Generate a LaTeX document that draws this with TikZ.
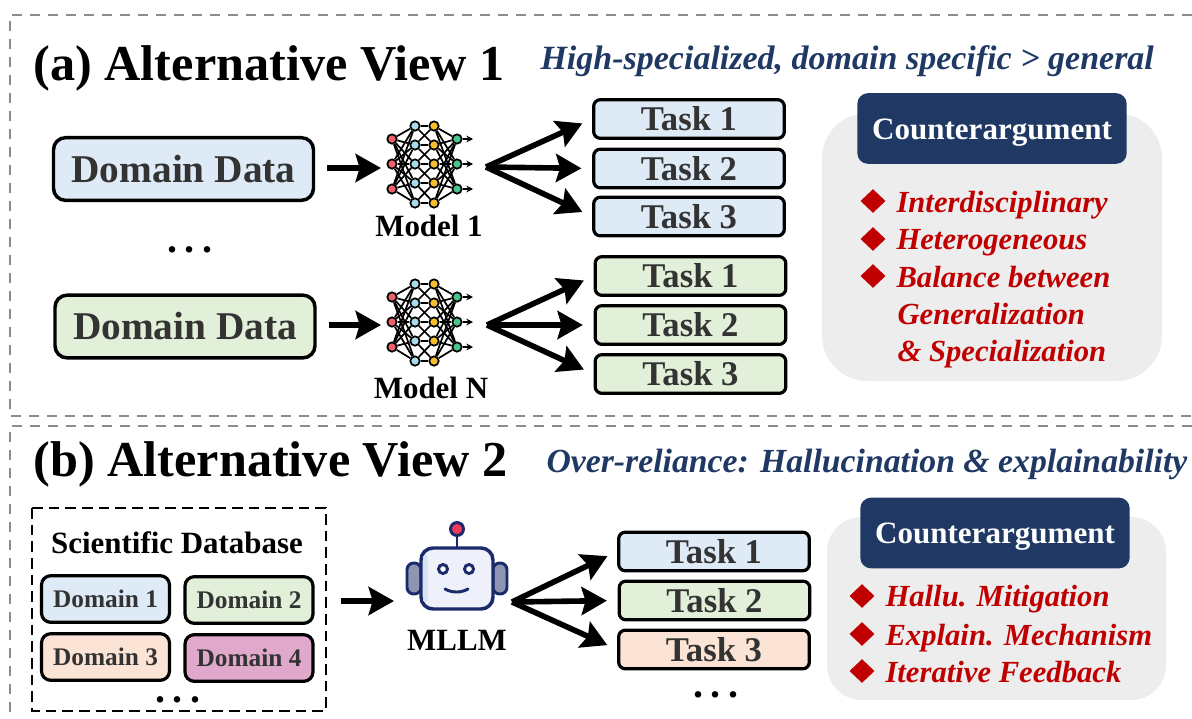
\documentclass[tikz,border=0pt]{standalone}
\usepackage{fontspec}
\setmainfont{Liberation Serif}
\usetikzlibrary{arrows.meta,shapes.geometric}

\definecolor{navyhead}{HTML}{1F3864}
\definecolor{boxblue}{HTML}{DEEAF6}
\definecolor{boxgreen}{HTML}{E2EFD9}
\definecolor{boxorange}{HTML}{FBE4D5}
\definecolor{boxpink}{HTML}{E0A9CC}
\definecolor{panelgray}{HTML}{EDEDED}
\definecolor{listred}{HTML}{C00000}
\definecolor{textgray}{HTML}{333333}
\definecolor{framegray}{HTML}{8C8C8C}
\definecolor{robotnavy}{HTML}{1B2A6B}

\tikzset{every picture/.style={line width=0.75pt}}
\tikzset{
  databox/.style={draw=black,line width=2.6pt,rounded corners=9pt,minimum width=195pt,minimum height=47pt,inner sep=0pt,text=textgray,font=\fontsize{29.5}{31}\selectfont\bfseries},
  taskbox/.style={draw=black,line width=2.4pt,rounded corners=5pt,minimum width=143pt,minimum height=29pt,inner sep=0pt,text=textgray,font=\fontsize{26}{28}\selectfont\bfseries},
  domainbox/.style={draw=black,line width=2.4pt,rounded corners=7pt,minimum width=96pt,minimum height=35pt,inner sep=0pt,text=textgray,font=\fontsize{19}{21}\selectfont\bfseries},
  headbox/.style={fill=navyhead,rounded corners=8pt,minimum width=202pt,minimum height=53pt,inner sep=0pt,text=white,text height=22pt,text depth=6pt,font=\fontsize{23.3}{25}\selectfont\bfseries},
  titletext/.style={anchor=west,inner sep=0pt,font=\fontsize{37.7}{40}\selectfont\bfseries},
  subtext/.style={anchor=west,inner sep=0pt,text=navyhead,font=\fontsize{25.5}{27}\selectfont\bfseries\itshape},
  labeltext/.style={inner sep=0pt,font=\fontsize{23.2}{25}\selectfont\bfseries},
  listtext/.style={anchor=west,inner sep=0pt,text=listred,text height=16pt,text depth=5pt,font=\fontsize{23}{25}\selectfont\bfseries\itshape},
  listmark/.style={diamond,fill=listred,inner sep=0pt,minimum width=19pt,minimum height=18pt},
  dotstext/.style={inner sep=0pt,font=\fontsize{30}{32}\selectfont\bfseries},
  bigarrow/.style={line width=4.2pt,-{Stealth[length=19pt,width=21pt,inset=3pt]}},
  netdot/.style={circle,draw=black,line width=1.3pt,minimum size=7pt,inner sep=0pt},
  netline/.style={line width=1.3pt},
  framedash/.style={draw=framegray,line width=1.3pt,dash pattern={on 7.5pt off 6pt}},
}

\newcommand{\rowdots}{.\kern5.6pt.\kern5.6pt.}

% neural net icon: centre x, centre y, name prefix
\newcommand{\netmodel}[3]{%
\begin{scope}[shift={(#1,#2)},name prefix=#3-]
  \foreach \i/\yy in {1/-25,2/0,3/25} {
    \draw (-37,\yy) node (r\i) [netdot,fill={rgb,255:red,240;green,96;blue,106}] {};
    \draw (28,\yy) node (g\i) [netdot,fill={rgb,255:red,76;green,195;blue,138}] {};
    \coordinate (o\i) at (44,\yy);
    \draw [netline,-{Stealth[length=5pt,width=5pt]}] (g\i) -- (o\i);
  }
  \foreach \i/\yy in {1/-38,2/-19,3/0,4/19,5/39} {
    \draw (-14,\yy) node (b\i) [netdot,fill={rgb,255:red,168;green,220;blue,235}] {};
    \draw (5,\yy) node (y\i) [netdot,fill={rgb,255:red,245;green,192;blue,46}] {};
  }
  \foreach \i in {1,2,3} {
    \foreach \j in {1,2,3,4,5} {
      \draw [netline] (r\i) -- (b\j);
      \draw [netline] (y\j) -- (g\i);
    }
  }
  \foreach \i/\j in {1/1,1/2,2/1,2/2,2/3,3/2,3/3,3/4,4/3,4/4,4/5,5/4,5/5} {
    \draw [netline] (b\i) -- (y\j);
  }
\end{scope}}

\begin{document}
\begin{tikzpicture}[x=0.75pt,y=0.75pt,yscale=-1,xscale=1]
  \useasboundingbox (0,0) rectangle (1192,718);

  %Dashed frames
  \draw [framedash] (1192,15) -- (10,15) -- (10,416) -- (1192,416);
  \draw [framedash] (1192,426) -- (10,426) -- (10,718);

  %Gray panels
  \fill [panelgray,rounded corners=34pt] (822,113) rectangle (1162,381);
  \fill [panelgray,rounded corners=26pt] (827,517) rectangle (1166,700);
  \draw [black,line width=1.5pt,dash pattern={on 8pt off 4.5pt}] (32,508) rectangle (326,711);

  % Text Node
  \draw (33,68) node (titlea) [titletext] {(a) Alternative View 1};
  % Text Node
  \draw (540,61.5) node (suba) [subtext] {High-specialized, domain specific > general};
  % Text Node
  \draw (33,464) node (titleb) [titletext] {(b) Alternative View 2};
  % Text Node
  \draw (546,464.5) node (subb) [subtext,font=\fontsize{25.3}{27}\selectfont\bfseries\itshape] {Over-reliance: Hallucination \& explainability};

  %Domain data
  \draw (183.5,169) node (dataa) [databox,fill=boxblue] {Domain Data};
  \draw (185,326.5) node (datan) [databox,fill=boxgreen] {Domain Data};
  \draw (190,250) node (dotsa) [dotstext] {\rowdots};

  %Models
  \netmodel{429}{164}{neta}
  \netmodel{429}{322}{netn}
  \draw (429,226) node (labela) [labeltext] {Model 1};
  \draw (431,388) node (labeln) [labeltext] {Model N};

  %Tasks of view 1
  \draw (689,119) node (taskaa) [taskbox,fill=boxblue] {Task 1};
  \draw (689,168.5) node (taskab) [taskbox,fill=boxblue] {Task 2};
  \draw (689,216.5) node (taskac) [taskbox,fill=boxblue] {Task 3};
  \draw (690.5,276) node (taskna) [taskbox,fill=boxgreen] {Task 1};
  \draw (690.5,325) node (tasknb) [taskbox,fill=boxgreen] {Task 2};
  \draw (690.5,374) node (tasknc) [taskbox,fill=boxgreen] {Task 3};

  %Arrows of view 1
  \coordinate (fana) at (486,167);
  \coordinate (fann) at (487,325);
  \coordinate (neta-in) at (381,168);
  \coordinate (netn-in) at (381,325);
  \draw [bigarrow,shorten <=9pt] (dataa.east |- neta-in) -- (neta-in);
  \draw [bigarrow,shorten <=9pt] (datan.east |- netn-in) -- (netn-in);
  \foreach \t in {taskaa,taskab,taskac} {
    \draw [bigarrow,shorten >=8pt] (fana) -- (\t.west);
  }
  \foreach \t in {taskna,tasknb,tasknc} {
    \draw [bigarrow,shorten >=8pt] (fann) -- (\t.west);
  }

  %Counterargument of view 1
  \draw (992,128.5) node (heada) [headbox] {Counterargument};
  \draw (873,201) node (marka) [listmark] {};
  \draw (873,239) node (markb) [listmark] {};
  \draw (873,276) node (markc) [listmark] {};
  \draw (896,204.7) node (lista) [listtext] {Interdisciplinary};
  \draw (896,242.2) node (listb) [listtext] {Heterogeneous};
  \draw (896,279.7) node (listc) [listtext] {Balance between};
  \draw (897,316.7) node (listd) [listtext] {Generalization};
  \draw (897,353.7) node (liste) [listtext] {\& Specialization};

  %Scientific database
  \draw (177,543) node (dbtitle) [labeltext] {Scientific Database};
  \draw (105.5,599) node (doma) [domainbox,fill=boxblue] {Domain 1};
  \draw (249,600) node (domb) [domainbox,fill=boxgreen] {Domain 2};
  \draw (105.5,657) node (domc) [domainbox,fill=boxorange] {Domain 3};
  \draw (249,658) node (domd) [domainbox,fill=boxpink] {Domain 4};
  \draw (178,700) node (dotsb) [dotstext] {\rowdots};

  %Robot
  \draw [robotnavy,line width=2.2pt] (457,547) -- (457,535);
  \draw [robotnavy,line width=2.2pt,fill={rgb,255:red,240;green,60;blue,90}] (457,529) circle (6.5);
  \draw [robotnavy,line width=2.2pt,fill={rgb,255:red,141;green,149;blue,176},rounded corners=5pt] (407,563) rectangle (421,594);
  \draw [robotnavy,line width=2.2pt,fill={rgb,255:red,141;green,149;blue,176},rounded corners=5pt] (493,563) rectangle (507,594);
  \draw [robotnavy,line width=2.6pt,fill={rgb,255:red,238;green,241;blue,250},rounded corners=9pt] (421,548) rectangle (493,609);
  \fill [fill={rgb,255:red,213;green,227;blue,245}] (423,556) rectangle (428,601);
  \draw [robotnavy,line width=2.2pt,fill=white] (443,569) circle (4.5);
  \draw [robotnavy,line width=2.2pt,fill=white] (469,569) circle (4.5);
  \draw [robotnavy,line width=2.2pt,line cap=round] (445,589) .. controls (452,593) and (461,593) .. (468,589);
  \draw (457,640) node (labelm) [labeltext] {MLLM};
  \coordinate (robotl) at (394,601);
  \coordinate (fanm) at (512,602);

  %Tasks of view 2
  \draw (714,551.5) node (taskma) [taskbox,fill=boxblue] {Task 1};
  \draw (714.5,600.5) node (taskmb) [taskbox,fill=boxgreen] {Task 2};
  \draw (714,649.5) node (taskmc) [taskbox,fill=boxorange] {Task 3};
  \draw (716,695) node (dotsc) [dotstext] {\rowdots};

  %Arrows of view 2
  \coordinate (dbr) at (341,601);
  \draw [bigarrow] (dbr) -- (robotl);
  \foreach \t in {taskma,taskmb,taskmc} {
    \draw [bigarrow,shorten >=8pt] (fanm) -- (\t.west);
  }

  %Counterargument of view 2
  \draw (995,533) node (headb) [headbox] {Counterargument};
  \draw (862,596) node (markd) [listmark] {};
  \draw (862,634) node (marke) [listmark] {};
  \draw (862,671) node (markf) [listmark] {};
  \draw (885,599.4) node (listf) [listtext] {Hallu. Mitigation};
  \draw (885,637.7) node (listg) [listtext] {Explain. Mechanism};
  \draw (885,674.7) node (listh) [listtext] {Iterative Feedback};
\end{tikzpicture}
\end{document}
